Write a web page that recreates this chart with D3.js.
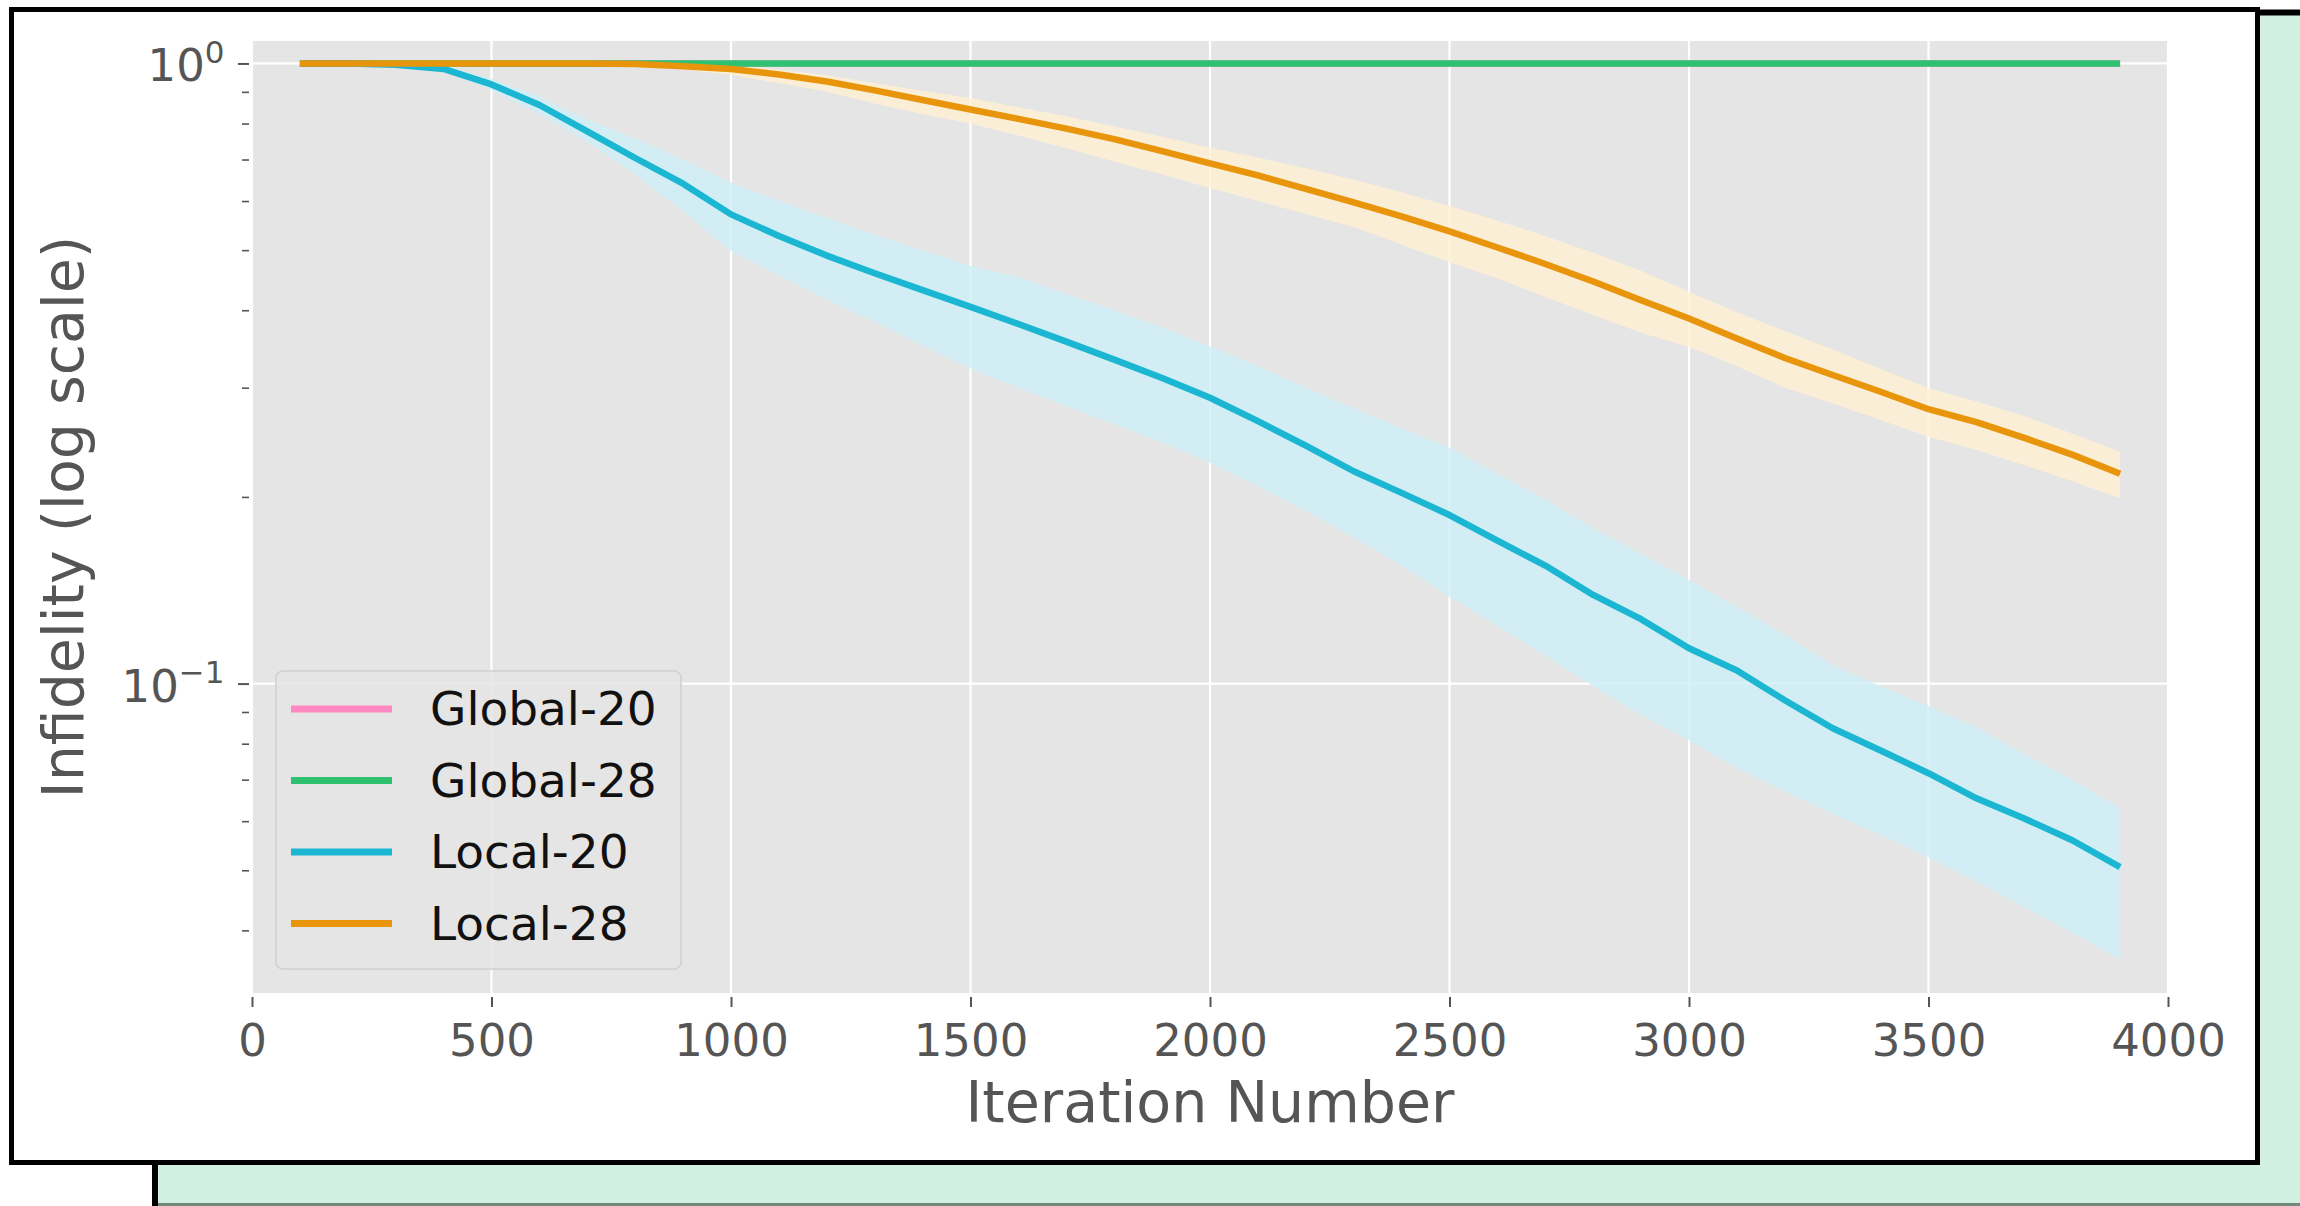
<!DOCTYPE html>
<html>
<head>
<meta charset="utf-8">
<script src="https://cdn.jsdelivr.net/npm/d3@7"></script>
<style>
  html, body { margin: 0; padding: 0; background: #ffffff; }
  svg { display: block; }
  text { font-family: "DejaVu Sans", sans-serif; }
</style>
</head>
<body>
<svg id="chart" width="2300" height="1206"></svg>
<script>
// ---------------- DATA ----------------
const iterations = [100,200,300,400,500,600,700,800,900,1000,
  1100,1200,1300,1400,1500,1600,1700,1800,1900,2000,
  2100,2200,2300,2400,2500,2600,2700,2800,2900,3000,
  3100,3200,3300,3400,3500,3600,3700,3800,3900];

const global20 = [1,1,1,1,1,1,1,1,1,1, 1,1,1,1,1,1,1,1,1,1, 1,1,1,1,1,1,1,1,1,1, 1,1,1,1,1,1,1,1,1];
const global28 = [1,1,1,1,1,1,1,1,1,1, 1,1,1,1,1,1,1,1,1,1, 1,1,1,1,1,1,1,1,1,1, 1,1,1,1,1,1,1,1,1];

const local20Mean = [1.0,1.0,0.995,0.98,0.925,0.857,0.777,0.704,0.64,0.571,
  0.527,0.49,0.459,0.431,0.405,0.38,0.356,0.333,0.311,0.289,
  0.265,0.242,0.22,0.203,0.187,0.17,0.155,0.139,0.127,0.114,
  0.105,0.094,0.0847,0.078,0.0717,0.0653,0.0606,0.0559,0.0506];
const local20High = [1.0,1.0,1.0,0.99,0.945,0.885,0.812,0.757,0.70,0.642,
  0.60,0.564,0.529,0.50,0.472,0.452,0.425,0.40,0.375,0.35,
  0.325,0.30,0.278,0.258,0.24,0.218,0.198,0.178,0.162,0.147,
  0.133,0.12,0.107,0.099,0.092,0.085,0.077,0.07,0.063];
const local20Low = [1.0,0.998,0.99,0.972,0.905,0.83,0.748,0.662,0.577,0.499,
  0.455,0.416,0.383,0.351,0.322,0.30,0.28,0.262,0.245,0.227,
  0.208,0.19,0.172,0.155,0.138,0.124,0.111,0.099,0.089,0.081,
  0.073,0.067,0.0617,0.057,0.0525,0.048,0.0436,0.0397,0.0359];

const local28Mean = [1.0,1.0,1.0,1.0,1.0,1.0,1.0,0.998,0.99,0.98,
  0.96,0.935,0.905,0.873,0.843,0.814,0.785,0.755,0.722,0.69,
  0.66,0.628,0.597,0.567,0.536,0.505,0.475,0.445,0.415,0.388,
  0.36,0.335,0.3145,0.2955,0.277,0.264,0.249,0.234,0.218];
const local28High = [1.0,1.0,1.0,1.0,1.0,1.0,1.0,1.0,0.999,0.993,
  0.978,0.957,0.93,0.904,0.88,0.85,0.822,0.792,0.762,0.731,
  0.705,0.678,0.65,0.62,0.589,0.558,0.527,0.495,0.463,0.4285,
  0.397,0.37,0.346,0.322,0.2995,0.285,0.27,0.253,0.2365];
const local28Low = [1.0,1.0,1.0,1.0,1.0,0.999,0.997,0.992,0.978,0.958,
  0.93,0.9,0.862,0.828,0.80,0.765,0.73,0.695,0.662,0.63,
  0.60,0.572,0.545,0.51,0.478,0.45,0.42,0.393,0.368,0.349,
  0.325,0.30,0.283,0.266,0.25,0.238,0.225,0.212,0.199];

const seriesNames = ["Global-20","Global-28","Local-20","Local-28"];
const xTicks = [0,500,1000,1500,2000,2500,3000,3500,4000];
const yMajorTicks = [1, 0.1];
const yMajorLabels = [["10","0"],["10","\u22121"]];
const yMinorTicks = [0.9,0.8,0.7,0.6,0.5,0.4,0.3,0.2,0.09,0.08,0.07,0.06,0.05,0.04];
const xLabel = "Iteration Number";
const yLabel = "Infidelity (log scale)";

// ---------------- STYLE ----------------
const colors = {
  "Global-20": "#ff88c2",
  "Global-28": "#2ec170",
  "Local-20": "#1bb6d2",
  "Local-28": "#e8950c"
};
const bandColors = { "Local-20": "#cdeff6", "Local-28": "#fff0d2" };

const svg = d3.select("#chart");

// decorative background card + frame
svg.append("rect").attr("x",155).attr("y",12.5).attr("width",2300).attr("height",2000)
  .attr("fill","#d2f0e1").attr("stroke","#000").attr("stroke-width",6);
svg.append("line").attr("x1",158).attr("x2",2300).attr("y1",1204.5).attr("y2",1204.5)
  .attr("stroke","#6f8a7c").attr("stroke-width",3);
svg.append("rect").attr("x",11.5).attr("y",9.5).attr("width",2246).attr("height",1153)
  .attr("fill","#ffffff").attr("stroke","#000").attr("stroke-width",5);

// scales
const plotL = 252, plotR = 2168, plotT = 41, plotB = 993;
const x = d3.scaleLinear().domain([0,4000]).range([plotL, plotR]);
const y = d3.scaleLog().domain([0.0317, 1.087]).range([plotB, plotT]);

// plot background
svg.append("rect").attr("x",plotL).attr("y",plotT).attr("width",plotR-plotL).attr("height",plotB-plotT)
  .attr("fill","#e5e5e5");

// grid
const grid = svg.append("g");
grid.selectAll("line.vx").data(xTicks).join("line")
  .attr("x1",d=>x(d)).attr("x2",d=>x(d)).attr("y1",plotT).attr("y2",plotB)
  .attr("stroke","#ffffff").attr("stroke-width",2.2);
grid.selectAll("line.hy").data(yMajorTicks).join("line")
  .attr("x1",plotL).attr("x2",plotR).attr("y1",d=>y(d)).attr("y2",d=>y(d))
  .attr("stroke","#ffffff").attr("stroke-width",2.2);

// bands
const area = (lo, hi) => d3.area()
  .x((d,i)=>x(iterations[i])).y0((d,i)=>y(lo[i])).y1((d,i)=>y(hi[i]))(iterations);
const plotG = svg.append("g");
plotG.append("path").attr("d", area(local20Low, local20High))
  .attr("fill", bandColors["Local-20"]).attr("fill-opacity",0.8);
plotG.append("path").attr("d", area(local28Low, local28High))
  .attr("fill", bandColors["Local-28"]).attr("fill-opacity",0.8);

// lines
const lineGen = vals => d3.line().x((d,i)=>x(iterations[i])).y((d,i)=>y(vals[i]))(iterations);
const seriesVals = { "Global-20": global20, "Global-28": global28, "Local-20": local20Mean, "Local-28": local28Mean };
seriesNames.forEach(name => {
  plotG.append("path").attr("d", lineGen(seriesVals[name]))
    .attr("fill","none").attr("stroke", colors[name]).attr("stroke-width",6.5)
    .attr("stroke-linejoin","round").attr("stroke-linecap","butt");
});

// x axis
const xAxis = d3.axisBottom(x).tickValues(xTicks).tickSize(10).tickPadding(17).tickFormat(d3.format("d"));
const xg = svg.append("g").attr("transform",`translate(0,${plotB+4})`).call(xAxis);
xg.select(".domain").remove();
xg.selectAll(".tick line").attr("stroke","#555").attr("stroke-width",2);
xg.selectAll(".tick text").attr("fill","#555").attr("font-size",45).attr("font-family","DejaVu Sans, sans-serif");

// y axis minor ticks
const yMinor = d3.axisLeft(y).tickValues(yMinorTicks).tickSize(7).tickFormat("");
const ymg = svg.append("g").attr("transform",`translate(${plotL-3},0)`).call(yMinor);
ymg.select(".domain").remove();
ymg.selectAll(".tick line").attr("stroke","#555").attr("stroke-width",1.6);

// y axis major ticks
const yMajor = d3.axisLeft(y).tickValues(yMajorTicks).tickSize(11).tickFormat("");
const yMg = svg.append("g").attr("transform",`translate(${plotL-3},0)`).call(yMajor);
yMg.select(".domain").remove();
yMg.selectAll(".tick line").attr("stroke","#555").attr("stroke-width",2);

// y major labels with superscripts
yMajorTicks.forEach((v,i) => {
  const t = svg.append("text").attr("x",224.5).attr("y", y(v)+18)
    .attr("text-anchor","end").attr("fill","#555").attr("font-size",45);
  t.append("tspan").text(yMajorLabels[i][0]);
  t.append("tspan").attr("font-size",31).attr("dy",-18.4).text(yMajorLabels[i][1]);
});

// axis labels
svg.append("text").attr("x",(plotL+plotR)/2).attr("y",1122).attr("text-anchor","middle")
  .attr("fill","#555").attr("font-size",57).text(xLabel);
svg.append("text").attr("transform",`translate(83,${(plotT+plotB)/2}) rotate(-90)`)
  .attr("text-anchor","middle").attr("fill","#555").attr("font-size",57).text(yLabel);

// legend
const lg = svg.append("g");
lg.append("rect").attr("x",276).attr("y",671).attr("width",405).attr("height",298).attr("rx",7)
  .attr("fill","#e5e5e5").attr("fill-opacity",0.8).attr("stroke","#d0d0d0").attr("stroke-width",1.5);
seriesNames.forEach((name,i) => {
  const ly = 709 + i*71.5;
  lg.append("line").attr("x1",291).attr("x2",392).attr("y1",ly).attr("y2",ly)
    .attr("stroke",colors[name]).attr("stroke-width",7);
  lg.append("text").attr("x",430).attr("y",ly+16).attr("fill","#111").attr("font-size",47).text(name);
});
</script>
</body>
</html>
